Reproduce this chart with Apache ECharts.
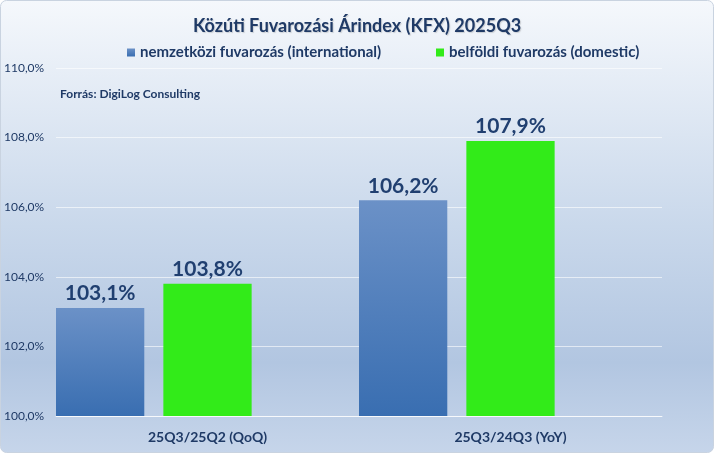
<!DOCTYPE html>
<html><head><meta charset="utf-8">
<script src="https://cdn.jsdelivr.net/npm/echarts@6/dist/echarts.min.js"></script>
<style>html,body{margin:0;padding:0;background:#fff;}#c{width:714px;height:453px;}</style>
</head><body><div id="c"></div>
<script>
const categories = ['25Q3/25Q2 (QoQ)', '25Q3/24Q3 (YoY)'];
const seriesNames = ['nemzetközi fuvarozás (international)', 'belföldi fuvarozás (domestic)'];
const international = [103.1, 106.2];
const domestic = [103.8, 107.9];
const spacer = [null, null];
const yMin = 100, yMax = 110, yInterval = 2;
const titleText = 'Közúti Fuvarozási Árindex (KFX) 2025Q3';
const sourceText = 'Forrás: DigiLog Consulting';

const FONT = 'Lato';
const NAVY = '#1f3a66';
const fmt = v => v.toFixed(1).replace('.', ',') + '%';

const chart = echarts.init(document.getElementById('c'), null, {renderer: 'canvas'});
const labelOpt = {
  show: true, position: 'top', distance: 4,
  fontFamily: FONT, fontWeight: 'bold', fontSize: 21, color: '#203f70',
  formatter: p => fmt(p.value)
};
const legendBase = {top: 45, icon: 'rect', itemWidth: 8, itemHeight: 8, padding: 0,
  textStyle: {fontFamily: FONT, fontSize: 15, fontWeight: 'bold', color: NAVY, padding: [0, 0, 0, 0]}};
chart.setOption({
  animation: false,
  graphic: [
    {type: 'rect', z: -10, silent: true,
     shape: {x: 0.5, y: 0.5, width: 713, height: 452, r: 6},
     style: {fill: new echarts.graphic.LinearGradient(0, 0, 0, 1, [
        {offset: 0, color: '#f5f8fc'},
        {offset: 0.5, color: '#c9d8eb'},
        {offset: 0.8, color: '#b2c6e1'},
        {offset: 1, color: '#c6d5ea'}]),
       stroke: '#c9d3e0', lineWidth: 1}},
    {type: 'text', left: 60, top: 88, z: 10,
     style: {text: sourceText, fontFamily: FONT, fontSize: 12, fontWeight: 'bold', fill: NAVY}}
  ],
  title: {text: titleText, left: 'center', top: 12,
    textStyle: {fontFamily: FONT, fontSize: 18, fontWeight: 'bold', color: NAVY,
      textShadowColor: 'rgba(0,0,0,0.15)', textShadowBlur: 1, textShadowOffsetX: 1, textShadowOffsetY: 1}},
  legend: [
    Object.assign({}, legendBase, {data: [seriesNames[0]], left: 127}),
    Object.assign({}, legendBase, {data: [seriesNames[1]], left: 436})
  ],
  grid: {left: 56, right: 52, top: 68, bottom: 37, containLabel: false},
  xAxis: {type: 'category', data: categories,
    axisLine: {show: true, lineStyle: {color: 'rgba(255,255,255,0.7)'}},
    axisTick: {show: false},
    axisLabel: {fontFamily: FONT, fontSize: 14, fontWeight: 'bold', color: NAVY, margin: 14}},
  yAxis: {type: 'value', min: yMin, max: yMax, interval: yInterval,
    axisLine: {show: false}, axisTick: {show: false},
    splitLine: {lineStyle: {color: 'rgba(255,255,255,0.6)', width: 1}},
    axisLabel: {fontFamily: FONT, fontSize: 12, color: NAVY, align: 'left', margin: 52, formatter: v => fmt(v)}},
  series: [
    {name: seriesNames[0], type: 'bar', data: international, barGap: '21.6%', barCategoryGap: '0%',
     itemStyle: {color: new echarts.graphic.LinearGradient(0, 0, 0, 1, [
       {offset: 0, color: '#6b91c7'}, {offset: 1, color: '#396eb1'}])},
     label: labelOpt},
    {name: seriesNames[1], type: 'bar', data: domestic,
     itemStyle: {color: '#32eb19'}, label: labelOpt},
    {name: 'spacer', type: 'bar', data: spacer, itemStyle: {color: 'transparent'}}
  ]
});
</script></body></html>
